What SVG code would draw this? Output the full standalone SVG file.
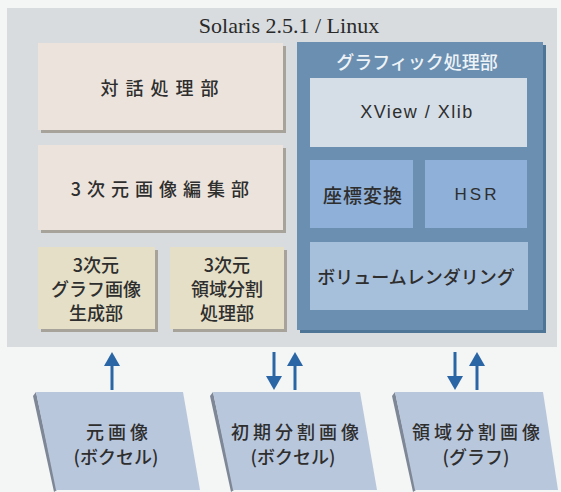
<svg xmlns="http://www.w3.org/2000/svg" width="561" height="492" viewBox="0 0 561 492">
<defs>
<style>
.jp{font-family:"Noto Sans CJK JP","Noto Sans",sans-serif;font-weight:500;fill:#2e2e2e;text-anchor:middle;dominant-baseline:central}
.lat{font-family:"Liberation Sans",sans-serif;font-weight:400}
.title{font-family:"Liberation Serif",serif;font-size:22px;fill:#2a2a2a;text-anchor:middle}
.shadow{fill:#a7a39b}
.beige{fill:#ece4dc}
.yel{fill:#e4dfc6}
.blue1{fill:#8fb0d8}
.blue2{fill:#a6bfdb}
.light{fill:#d5dee7}
.para{fill:#b9c7dc}
.pshadow{fill:#7e8796}
.arr{stroke:#2a66a6;stroke-width:3;fill:none}
.ah{fill:#2a66a6}
</style>
</defs>
<rect width="561" height="492" fill="#f4f5f5"/>
<g id="os">
<rect x="7" y="8" width="550" height="339" fill="#d8dcdf"/>
<text class="title" x="289" y="33">Solaris 2.5.1 / Linux</text>
</g>
<g id="taiwa">
<rect class="shadow" x="41" y="46" width="245" height="87"/>
<rect class="beige" x="38" y="43" width="245" height="87"/>
<text class="jp" x="163" y="87" font-size="18" letter-spacing="7">対話処理部</text>
</g>
<g id="henshu">
<rect class="shadow" x="41" y="148" width="245" height="85"/>
<rect class="beige" x="38" y="145" width="245" height="85"/>
<text class="jp" x="163" y="188" font-size="18" letter-spacing="6">3次元画像編集部</text>
</g>
<g id="graph-gen">
<rect class="shadow" x="41" y="250" width="117" height="82"/>
<rect class="yel" x="38" y="247" width="117" height="82"/>
<text class="jp" x="96" y="264" font-size="18">3次元</text>
<text class="jp" x="96" y="288" font-size="18">グラフ画像</text>
<text class="jp" x="96" y="312" font-size="18">生成部</text>
</g>
<g id="region-split">
<rect class="shadow" x="173" y="250" width="114" height="82"/>
<rect class="yel" x="170" y="247" width="114" height="82"/>
<text class="jp" x="227" y="264" font-size="18">3次元</text>
<text class="jp" x="227" y="288" font-size="18">領域分割</text>
<text class="jp" x="227" y="312" font-size="18">処理部</text>
</g>
<g id="graphics">
<rect x="300" y="45" width="246" height="288" fill="#4f7596"/>
<rect x="297" y="42" width="246" height="288" fill="#6a8fb0"/>
<text class="jp" x="417" y="61" font-size="18" style="fill:#eef3f8">グラフィック処理部</text>
</g>
<g id="xview">
<rect class="light" x="310" y="78" width="217" height="69"/>
<text class="jp lat" x="417" y="112" font-size="18" letter-spacing="1.5">XView / Xlib</text>
</g>
<g id="zahyo">
<rect class="blue1" x="310" y="160" width="103" height="68"/>
<text class="jp" x="363" y="194" font-size="19" letter-spacing="1">座標変換</text>
</g>
<g id="hsr">
<rect class="blue1" x="425" y="160" width="102" height="68"/>
<text class="jp lat" x="477" y="194" font-size="17" letter-spacing="3">HSR</text>
</g>
<g id="volume">
<rect class="blue2" x="310" y="242" width="218" height="68"/>
<text class="jp" x="416" y="276" font-size="18">ボリュームレンダリング</text>
</g>
<g id="src">
<polygon class="pshadow" points="33,396 36,392 57,490 54,492"/>
<polygon class="para" points="36,392 183,392 200,490 56,490"/>
<text class="jp" x="119" y="431" font-size="18" letter-spacing="4">元画像</text>
<text class="jp" x="116" y="456" font-size="18">(ボクセル)</text>
</g>
<g id="init">
<polygon class="pshadow" points="210,396 213,392 234,490 231,492"/>
<polygon class="para" points="213,392 360,392 377,490 233,490"/>
<text class="jp" x="297" y="431" font-size="18" letter-spacing="4">初期分割画像</text>
<text class="jp" x="293" y="456" font-size="18">(ボクセル)</text>
</g>
<g id="region">
<polygon class="pshadow" points="392,396 395,392 416,490 413,492"/>
<polygon class="para" points="395,392 543,392 558,490 415,490"/>
<text class="jp" x="478" y="431" font-size="18" letter-spacing="4">領域分割画像</text>
<text class="jp" x="476" y="456" font-size="18">(グラフ)</text>
</g>
<g id="connectors">
<line class="arr" x1="112" y1="390" x2="112" y2="364"/>
<polygon class="ah" points="104,366 112,352 120,366"/>
<line class="arr" x1="274" y1="352" x2="274" y2="378"/>
<polygon class="ah" points="266,376 274,390 282,376"/>
<line class="arr" x1="295" y1="390" x2="295" y2="364"/>
<polygon class="ah" points="287,366 295,352 303,366"/>
<line class="arr" x1="455" y1="352" x2="455" y2="378"/>
<polygon class="ah" points="447,376 455,390 463,376"/>
<line class="arr" x1="477" y1="390" x2="477" y2="364"/>
<polygon class="ah" points="469,366 477,352 485,366"/>
</g>
</svg>
